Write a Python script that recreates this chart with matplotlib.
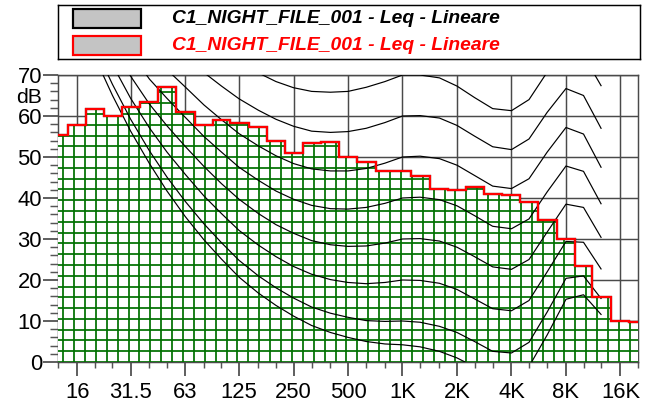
import numpy as np
import matplotlib
matplotlib.use("Agg")
import matplotlib.pyplot as plt
import matplotlib.transforms as mtransforms
from matplotlib.collections import LineCollection
from matplotlib.patches import Rectangle
from matplotlib.ticker import FixedLocator, NullFormatter

plt.rcParams['font.family'] = ['Liberation Sans', 'DejaVu Sans']

# 1/3 octave band centres (Hz) and measured Leq (dB)
bands = [12.5, 16, 20, 25, 31.5, 40, 50, 63, 80, 100, 125, 160, 200, 250, 315,
         400, 500, 630, 800, 1000, 1250, 1600, 2000, 2500, 3150, 4000, 5000,
         6300, 8000, 10000, 12500, 16000, 20000]
leq = [55.4, 57.8, 61.6, 60.0, 62.1, 63.5, 67.1, 61.0, 57.8, 59.0, 58.2, 57.4,
       53.8, 50.9, 53.3, 53.7, 50.0, 48.8, 46.6, 46.5, 45.3, 42.3, 41.9, 42.6,
       41.0, 40.7, 39.0, 34.6, 29.9, 23.3, 15.8, 10.1, 9.7]

# octave ticks
octave_ticks = [16, 31.5, 63, 125, 250, 500, 1000, 2000, 4000, 8000, 16000]
octave_labels = ["16", "31.5", "63", "125", "250", "500", "1K", "2K", "4K", "8K", "16K"]

# isophonic curves (20 Hz - 12.5 kHz)
iso_freqs = bands[2:31]
maf = [74.3, 65.0, 56.3, 48.4, 41.7, 35.5, 29.8, 25.1, 20.7, 16.8, 13.8, 11.2, 8.9, 7.2,
       6.0, 5.0, 4.4, 4.2, 3.7, 2.6, 1.0, -1.2, -3.6, -3.9, -1.1, 6.6, 15.3, 16.4, 11.6]
phon10 = [76.8, 67.7, 59.2, 51.5, 45.1, 39.2, 33.7, 29.1, 24.8, 21.0, 18.1, 15.6, 13.4, 11.9,
          10.9, 10.1, 9.9, 10.0, 9.7, 8.7, 7.2, 5.0, 2.6, 2.2, 4.8, 12.2, 20.4, 21.0, 15.5]
phon20 = [81.3, 72.5, 64.3, 57.1, 51.2, 45.8, 40.5, 36.2, 32.1, 28.5, 25.7, 23.3, 21.4, 20.1,
          19.4, 19.1, 19.4, 20.0, 19.9, 19.2, 17.7, 15.4, 13.0, 12.5, 15.0, 22.0, 29.4, 29.2, 22.7]
phon30 = [86.0, 77.6, 69.7, 62.9, 57.6, 52.6, 47.7, 43.5, 39.7, 36.2, 33.5, 31.4, 29.6, 28.6,
          28.2, 28.3, 29.0, 30.0, 30.1, 29.5, 28.0, 25.7, 23.2, 22.6, 25.0, 31.7, 38.5, 37.7, 30.4]
phon40 = [91.0, 82.9, 75.4, 69.0, 64.3, 59.7, 55.0, 51.2, 47.5, 44.3, 41.7, 39.7, 38.2, 37.4,
          37.3, 37.7, 38.7, 40.0, 40.2, 39.6, 38.1, 35.7, 33.1, 32.5, 34.9, 41.5, 47.8, 46.5, 38.6]
phon50 = [96.2, 88.5, 81.3, 75.4, 71.3, 67.1, 62.7, 59.1, 55.7, 52.7, 50.3, 48.4, 47.1, 46.6,
          46.6, 47.2, 48.5, 50.0, 50.2, 49.6, 48.0, 45.5, 42.9, 42.3, 44.7, 51.2, 57.2, 55.6, 47.5]
phon60 = [101.7, 94.4, 87.6, 82.1, 78.6, 74.8, 70.6, 67.3, 64.2, 61.4, 59.2, 57.5, 56.3, 56.0,
          56.2, 57.0, 58.4, 60.0, 60.1, 59.5, 57.7, 55.1, 52.5, 51.8, 54.4, 60.9, 66.7, 65.0, 57.0]
phon70 = [107.6, 100.7, 94.3, 89.2, 86.4, 82.8, 78.8, 75.8, 73.0, 70.5, 68.4, 66.9, 66.0, 65.8,
          66.0, 67.0, 68.4, 70.0, 70.0, 69.3, 67.3, 64.5, 61.8, 61.3, 64.0, 70.7, 76.4, 74.8, 67.4]

series_label = "C1_NIGHT_FILE_001 - Leq - Lineare"

# band edges: geometric mean between neighbouring centres
f = np.array(bands)
inner = np.sqrt(f[:-1] * f[1:])
edges = np.concatenate([[f[0] / 2 ** (1 / 6)], inner, [f[-1] * 2 ** (1 / 6)]])

DPI = 132
fig = plt.figure(figsize=(648 / DPI, 406 / DPI), dpi=DPI)
ax = fig.add_axes([58 / 648, 44 / 406, 580 / 648, 287 / 406])

grid_col = '#4a4a4a'
ax.set_axisbelow(True)
ax.grid(which='major', color=grid_col, lw=0.8)
for sp in ax.spines.values():
    sp.set_color(grid_col)
    sp.set_linewidth(0.8)
    sp.set_zorder(0.6)

# white bars, filled with a green grid texture clipped to the bar outline
bars = ax.stairs(leq, edges, baseline=0, fill=True, facecolor='white',
                 linewidth=0, zorder=1.5)
hy = np.arange(0, 72, 2.63)
hx = 12.5 * 2 ** (0.094 + 0.2 * np.arange(-1, 55))
segs = [[(8, y), (30000, y)] for y in hy] + [[(x, -5), (x, 80)] for x in hx]
texture = LineCollection(segs, colors='#007000', linewidths=0.95, zorder=1.6)
ax.add_collection(texture, autolim=False)
texture.set_clip_path(bars)

# isophonic curves
for curve in [maf, phon10, phon20, phon30, phon40, phon50, phon60, phon70]:
    ax.plot(iso_freqs, curve, color='black', lw=0.65, zorder=2.5)

# two spectra outlines (identical data, red on top)
ax.stairs(leq, edges, baseline=None, color='black', lw=1.2, zorder=2.8)
ax.stairs(leq, edges, baseline=None, color='#ff0000', lw=1.2, zorder=2.9)

ax.set_xscale('log')
ax.set_xlim(12.5, 20000)
ax.set_ylim(0, 70)

ax.xaxis.set_major_locator(FixedLocator(octave_ticks))
ax.set_xticklabels(octave_labels)
ax.xaxis.set_minor_locator(FixedLocator([b for b in bands if b not in octave_ticks]))
ax.xaxis.set_minor_formatter(NullFormatter())
ax.set_yticks(np.arange(0, 71, 10))
ax.set_yticks(np.arange(0, 71, 2), minor=True)

tick_col = '#555555'
ax.tick_params(axis='x', which='major', direction='out', length=7.6, width=1.0,
               color=tick_col, labelsize=12, pad=3.5)
ax.tick_params(axis='x', which='minor', direction='out', length=3.3, width=0.8, color=tick_col)
ax.tick_params(axis='y', which='major', direction='out', length=8.2, width=1.0,
               color=tick_col, labelsize=12, pad=0.5)
ax.tick_params(axis='y', which='minor', direction='out', length=4.1, width=0.8, color=tick_col)

trans = mtransforms.blended_transform_factory(ax.transAxes, ax.transData)
ax.text(-0.027, 64.4, "dB", transform=trans, ha='right', va='center', fontsize=11.5)

# legend box
lax = fig.add_axes([58 / 648, 1 - 59 / 406, 582 / 648, 54 / 406])
lax.set_xlim(0, 1)
lax.set_ylim(0, 1)
lax.set_xticks([])
lax.set_yticks([])
for sp in lax.spines.values():
    sp.set_linewidth(0.8)
    sp.set_color('black')

for yc, col in [(0.741, 'black'), (0.241, '#ff0000')]:
    lax.add_patch(Rectangle((0.026, yc - 0.176), 0.117, 0.352, facecolor='#c4c4c4',
                            edgecolor=col, lw=1.2))
    lax.text(0.196, yc, series_label, color=col, fontsize=10.5, fontweight='bold',
             fontstyle='italic', va='center', ha='left')

fig.savefig("out.png", dpi=DPI)
